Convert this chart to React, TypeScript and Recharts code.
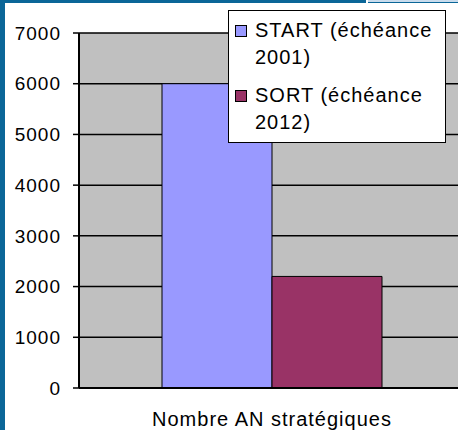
import { BarChart, Bar, XAxis, YAxis, CartesianGrid, Legend } from "recharts";

const categories = ["Nombre AN stratégiques"];
const startValues = [6000];
const sortValues = [2200];
const seriesNames = ["START (échéance 2001)", "SORT (échéance 2012)"];
const seriesColors = ["#9999ff", "#993366"];
const yTicks = [0, 1000, 2000, 3000, 4000, 5000, 6000, 7000];

const data = categories.map((c, i) => ({ name: c, start: startValues[i], sort: sortValues[i] }));

const FONT = '"Liberation Sans", Arial, sans-serif';

function LegendBox({ payload }: any) {
  const items = [...(payload || [])].sort(
    (a: any, b: any) => seriesNames.indexOf(String(a.value)) - seriesNames.indexOf(String(b.value))
  );
  return (
    <div
      style={{
        background: "#fff",
        border: "1px solid #000",
        width: 218,
        height: 133,
        boxSizing: "border-box",
        paddingTop: 6,
        fontFamily: FONT,
        fontSize: 20,
        letterSpacing: 1,
        lineHeight: "27px",
        color: "#000",
      }}
    >
      {items.map((entry: any, i: number) => {
        const v = String(entry.value);
        const k = v.lastIndexOf(" ");
        return (
          <div key={i} style={{ position: "relative", paddingLeft: 26, marginBottom: 11 }}>
            <span
              style={{
                position: "absolute",
                left: 6,
                top: 8,
                width: 10,
                height: 10,
                background: entry.color,
                border: "1px solid #000",
              }}
            />
            <div>{v.slice(0, k)}</div>
            <div>{v.slice(k + 1)}</div>
          </div>
        );
      })}
    </div>
  );
}

export default function App() {
  return (
    <div
      style={{
        position: "absolute",
        left: 0,
        top: 0,
        width: 458,
        height: 430,
        overflow: "hidden",
        background: "#fff",
      }}
    >
      <BarChart
        width={470}
        height={430}
        data={data}
        margin={{ top: 33, right: 5, bottom: 0, left: 0 }}
        barCategoryGap={83}
        barGap={0}
        style={{ fontFamily: FONT }}
      >
        <CartesianGrid vertical={false} stroke="#000" strokeWidth={1.5} fill="#c0c0c0" fillOpacity={1} />
        <XAxis
          dataKey="name"
          height={42}
          tickLine={false}
          tickSize={0}
          tickMargin={24}
          axisLine={{ stroke: "#000", strokeWidth: 2 }}
          tick={{ fontSize: 20, fill: "#000", letterSpacing: 1 }}
        />
        <YAxis
          width={79}
          domain={[0, 7000]}
          ticks={yTicks}
          tickSize={6}
          tickMargin={12}
          axisLine={{ stroke: "#000", strokeWidth: 2 }}
          tickLine={{ stroke: "#000", strokeWidth: 1.5 }}
          tick={{ fontSize: 19, fill: "#000", letterSpacing: 1 }}
        />
        <Legend
          layout="vertical"
          align="center"
          verticalAlign="middle"
          content={<LegendBox />}
          wrapperStyle={{ position: "absolute", left: 228, top: 10, width: 218, height: 133 }}
        />
        <Bar dataKey="start" name={seriesNames[0]} fill={seriesColors[0]} stroke="#000" strokeWidth={1} isAnimationActive={false} />
        <Bar dataKey="sort" name={seriesNames[1]} fill={seriesColors[1]} stroke="#000" strokeWidth={1} isAnimationActive={false} />
      </BarChart>
      <div style={{ position: "absolute", left: 0, top: 0, width: 5, height: 430, background: "#0b6698" }} />
      <div style={{ position: "absolute", left: 0, top: 0, width: 366, height: 3, background: "#0b6698" }} />
      <div style={{ position: "absolute", left: 368, top: 0, width: 90, height: 2, background: "#c9dced" }} />
      <div style={{ position: "absolute", left: 368, top: 2, width: 90, height: 1, background: "#0b6698" }} />
    </div>
  );
}
